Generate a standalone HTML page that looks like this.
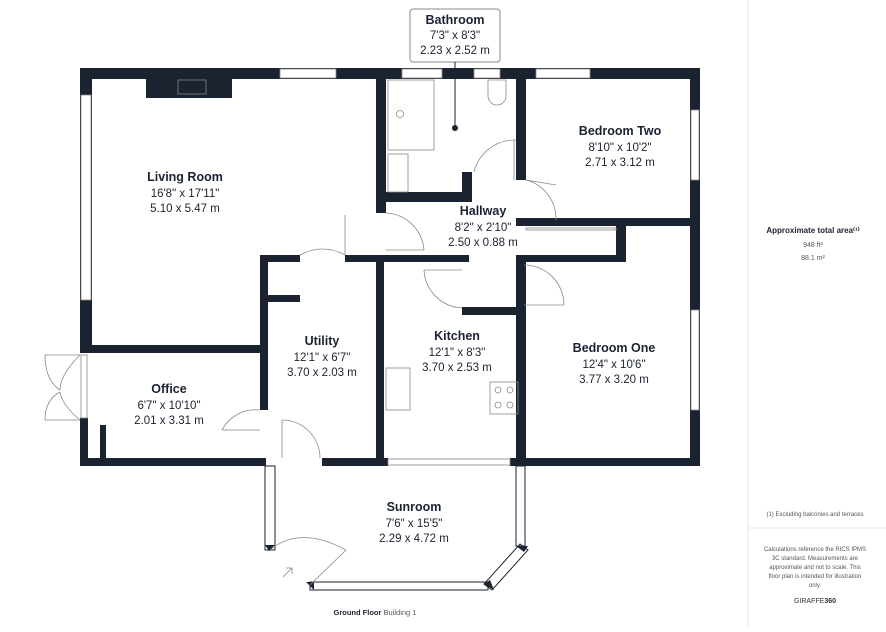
<!DOCTYPE html>
<html><head><style>
html,body{margin:0;padding:0;background:#fff;}
body{width:886px;height:627px;position:relative;overflow:hidden;font-family:"Liberation Sans",sans-serif;}
.lbl{font-family:"Liberation Sans",sans-serif;fill:#1b2230;text-anchor:middle;}
.t{font-weight:bold;font-size:12.5px;}
.d{font-size:11.5px;}
</style></head><body>
<svg width="886" height="627" viewBox="0 0 886 627" xmlns="http://www.w3.org/2000/svg">
<rect x="0" y="0" width="886" height="627" fill="#fff"/>
<line x1="748" y1="0" x2="748" y2="627" stroke="#e6e6e6"/>
<line x1="748" y1="528" x2="886" y2="528" stroke="#e6e6e6"/>
<text x="813" y="233" class="lbl" style="font-size:8px;font-weight:bold">Approximate total area⁽¹⁾</text>
<text x="813" y="247" class="lbl" style="font-size:7px;fill:#555">948 ft²</text>
<text x="813" y="260" class="lbl" style="font-size:7px;fill:#555">88.1 m²</text>
<text x="815" y="516" class="lbl" style="font-size:6px;fill:#555">(1) Excluding balconies and terraces</text>
<g class="lbl" style="font-size:6px;fill:#555">
<text x="815" y="551">Calculations reference the RICS IPMS</text>
<text x="815" y="560">3C standard. Measurements are</text>
<text x="815" y="569">approximate and not to scale. This</text>
<text x="815" y="578">floor plan is intended for illustration</text>
<text x="815" y="587">only.</text>
</g>
<text x="815" y="603" class="lbl" style="font-size:7px;fill:#333">GIRAFFE<tspan font-weight="bold">360</tspan></text>
<text x="375" y="615" class="lbl" style="font-size:7.5px;font-weight:bold">Ground Floor <tspan font-weight="normal" fill="#555">  Building 1</tspan></text>

<g fill="#1b2230">
<rect x="80" y="68" width="620" height="11"/>
<rect x="80" y="68" width="12" height="284"/>
<rect x="80" y="345" width="188" height="8"/>
<rect x="146" y="68" width="86" height="30"/>
<rect x="80" y="418" width="8" height="48"/>
<rect x="100" y="425" width="6" height="41"/>
<rect x="80" y="458" width="186" height="8"/>
<rect x="322" y="458" width="66" height="8"/>
<rect x="510" y="458" width="190" height="8"/>
<rect x="690" y="68" width="10" height="398"/>
<rect x="260" y="255" width="8" height="155"/>
<rect x="260" y="255" width="40" height="7"/>
<rect x="345" y="255" width="40" height="7"/>
<rect x="268" y="295" width="32" height="7"/>
<rect x="376" y="262" width="8" height="204"/>
<rect x="376" y="68" width="10" height="145"/>
<rect x="376" y="192" width="96" height="10"/>
<rect x="462" y="172" width="10" height="30"/>
<rect x="516" y="68" width="10" height="112"/>
<rect x="516" y="218" width="110" height="8"/>
<rect x="616" y="218" width="10" height="44"/>
<rect x="626" y="218" width="74" height="8"/>
<rect x="516" y="255" width="110" height="7"/>
<rect x="516" y="260" width="10" height="206"/>
<rect x="384" y="255" width="85" height="7"/>
<rect x="462" y="307" width="62" height="8"/>
</g>
<g fill="#fff" stroke="#888" stroke-width="0.8">
<rect x="280" y="69" width="56" height="9"/>
<rect x="402" y="69" width="40" height="9"/>
<rect x="474" y="69" width="26" height="9"/>
<rect x="536" y="69" width="54" height="9"/>
<rect x="81" y="95" width="10" height="205"/>
<rect x="691" y="110" width="8" height="70"/>
<rect x="691" y="310" width="8" height="100"/>
<rect x="388" y="459" width="122" height="6"/>
<rect x="81" y="355" width="6" height="63"/>
</g>
<!-- sunroom -->
<g fill="none" stroke="#1b2230" stroke-width="1">
<rect x="265" y="466" width="10" height="84"/>
<rect x="310" y="582" width="178" height="8"/>
<rect x="516" y="466" width="9" height="80"/>
<path d="M520 544 L528 550 L492 590 L484 584 Z"/>
</g>
<g fill="#1b2230">
<path d="M265 545 h10 l-6 6z"/><path d="M306 582 l8 0 0 8z"/><path d="M484 584 l6 -4 4 10z"/><path d="M516 546 l12 0 -4 6z"/>
</g>
<g fill="none" stroke="#888" stroke-width="0.8">
<path d="M270 550 Q300 525 346 550"/><line x1="346" y1="550" x2="310" y2="585"/>
<path d="M222 430 A38 38 0 0 1 260 410"/><line x1="222" y1="430" x2="260" y2="430"/>
<path d="M282 420 A38 38 0 0 1 320 458"/><line x1="282" y1="420" x2="282" y2="458"/>
<path d="M300 255 A45 45 0 0 1 345 255"/><line x1="345" y1="215" x2="345" y2="255"/>
<path d="M386 213 A40 40 0 0 1 424 250"/><line x1="386" y1="250" x2="424" y2="250"/>
<path d="M424 270 A40 40 0 0 0 462 308"/><line x1="424" y1="270" x2="462" y2="270"/>
<path d="M524 265 A40 40 0 0 1 564 305"/><line x1="524" y1="305" x2="564" y2="305"/>
<path d="M474 172 A42 42 0 0 1 516 140"/><line x1="514" y1="140" x2="514" y2="180"/>
<path d="M526 180 A40 40 0 0 1 556 220"/><line x1="526" y1="180" x2="556" y2="185"/>
<path d="M45 355 Q45 380 60 390 M80 355 Q60 375 60 390"/>
<path d="M45 420 Q45 400 60 392 M80 420 Q62 405 60 392"/>
<line x1="45" y1="355" x2="80" y2="355"/><line x1="45" y1="420" x2="80" y2="420"/>
<rect x="388" y="80" width="46" height="70"/>
<circle cx="400" cy="114" r="3.5"/>
<rect x="388" y="154" width="20" height="38"/>
<path d="M488 80 H506 V96 A9 9 0 0 1 488 96 Z"/>
<rect x="386" y="368" width="24" height="42"/>
<rect x="490" y="382" width="28" height="32"/>
<circle cx="498" cy="390" r="3"/><circle cx="510" cy="390" r="3"/>
<circle cx="498" cy="405" r="3"/><circle cx="510" cy="405" r="3"/>
<rect x="178" y="80" width="28" height="14"/>
<rect x="526" y="228" width="90" height="2"/>
<path d="M283 577 L292 568 M292 568 L292 574 M292 568 L286 568"/>
</g>
<rect x="410" y="9" width="90" height="53" rx="3" fill="#fff" stroke="#888"/>
<line x1="455" y1="62" x2="455" y2="128" stroke="#1b2230"/>
<circle cx="455" cy="128" r="3" fill="#1b2230"/>
<text x="455" y="24" class="lbl t">Bathroom</text>
<text x="455" y="39" class="lbl d">7'3" x 8'3"</text>
<text x="455" y="54" class="lbl d">2.23 x 2.52 m</text>
<text x="185" y="181" class="lbl t">Living Room</text>
<text x="185" y="197" class="lbl d">16'8" x 17'11"</text>
<text x="185" y="212" class="lbl d">5.10 x 5.47 m</text>
<text x="620" y="135" class="lbl t">Bedroom Two</text>
<text x="620" y="151" class="lbl d">8'10" x 10'2"</text>
<text x="620" y="166" class="lbl d">2.71 x 3.12 m</text>
<text x="483" y="215" class="lbl t">Hallway</text>
<text x="483" y="231" class="lbl d">8'2" x 2'10"</text>
<text x="483" y="246" class="lbl d">2.50 x 0.88 m</text>
<text x="322" y="345" class="lbl t">Utility</text>
<text x="322" y="361" class="lbl d">12'1" x 6'7"</text>
<text x="322" y="376" class="lbl d">3.70 x 2.03 m</text>
<text x="457" y="340" class="lbl t">Kitchen</text>
<text x="457" y="356" class="lbl d">12'1" x 8'3"</text>
<text x="457" y="371" class="lbl d">3.70 x 2.53 m</text>
<text x="614" y="352" class="lbl t">Bedroom One</text>
<text x="614" y="368" class="lbl d">12'4" x 10'6"</text>
<text x="614" y="383" class="lbl d">3.77 x 3.20 m</text>
<text x="169" y="393" class="lbl t">Office</text>
<text x="169" y="409" class="lbl d">6'7" x 10'10"</text>
<text x="169" y="424" class="lbl d">2.01 x 3.31 m</text>
<text x="414" y="511" class="lbl t">Sunroom</text>
<text x="414" y="527" class="lbl d">7'6" x 15'5"</text>
<text x="414" y="542" class="lbl d">2.29 x 4.72 m</text>
</svg>
</body></html>
